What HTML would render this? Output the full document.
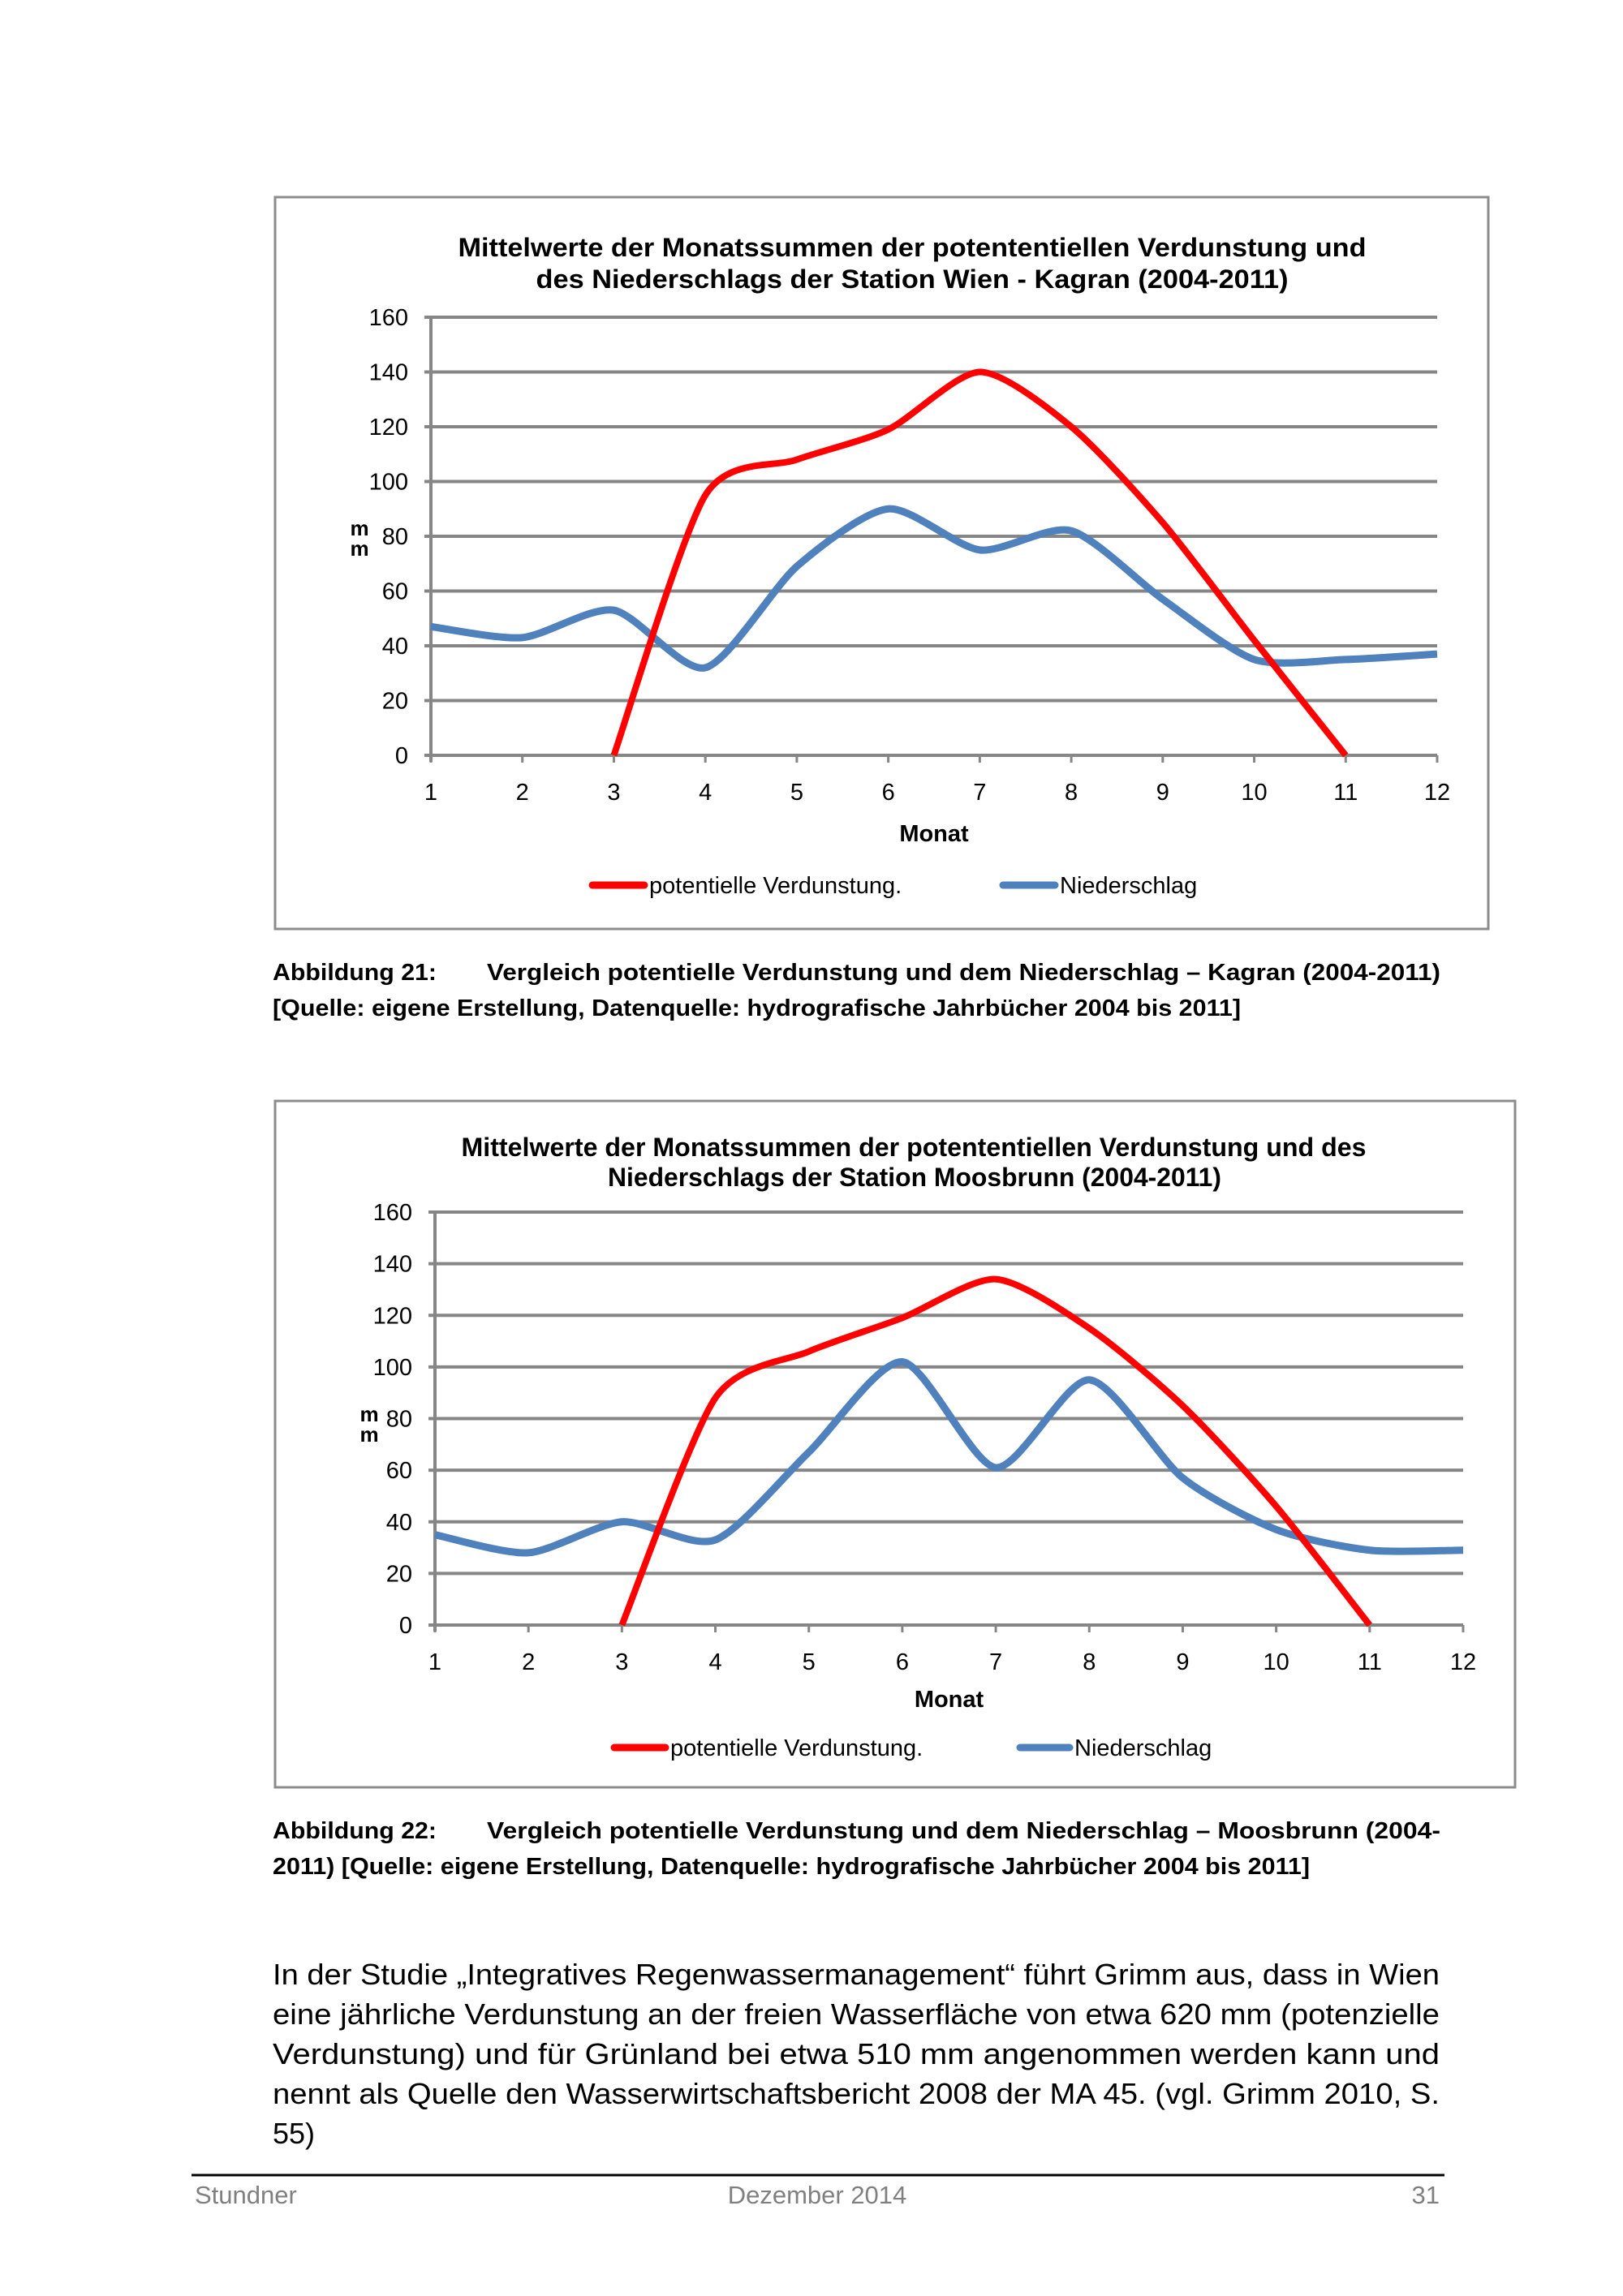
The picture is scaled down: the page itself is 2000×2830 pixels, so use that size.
<!DOCTYPE html>
<html><head><meta charset="utf-8"><style>
html,body{margin:0;padding:0;background:#fff;}
svg{display:block;}
text{font-family:"Liberation Sans",Arial,sans-serif;}
</style></head><body>
<svg id="page" width="2000" height="2830" viewBox="0 0 2000 2830" xmlns="http://www.w3.org/2000/svg">
<g id="c1">
<rect x="339" y="243" width="1495" height="902" fill="#fff" stroke="#8c8c8c" stroke-width="3"/>
<text x="1124" y="316" text-anchor="middle" font-size="32" font-weight="bold" textLength="1119" lengthAdjust="spacingAndGlyphs">Mittelwerte der Monatssummen der potententiellen Verdunstung und</text>
<text x="1124" y="355" text-anchor="middle" font-size="32" font-weight="bold" textLength="927" lengthAdjust="spacingAndGlyphs">des Niederschlags der Station Wien - Kagran (2004-2011)</text>
</g>
<g id="c2">
<rect x="339" y="1357" width="1528" height="846" fill="#fff" stroke="#8c8c8c" stroke-width="3"/>
<text x="1126" y="1425" text-anchor="middle" font-size="32" font-weight="bold" textLength="1115" lengthAdjust="spacingAndGlyphs">Mittelwerte der Monatssummen der potententiellen Verdunstung und des</text>
<text x="1127" y="1462" text-anchor="middle" font-size="32" font-weight="bold" textLength="756" lengthAdjust="spacingAndGlyphs">Niederschlags der Station Moosbrunn (2004-2011)</text>
</g>
<g font-size="29" font-weight="bold">
<text x="336" y="1208" textLength="202" lengthAdjust="spacingAndGlyphs">Abbildung 21:</text>
<text x="600" y="1208" textLength="1175" lengthAdjust="spacingAndGlyphs">Vergleich potentielle Verdunstung und dem Niederschlag – Kagran (2004-2011)</text>
<text x="336" y="1252" textLength="1193" lengthAdjust="spacingAndGlyphs">[Quelle: eigene Erstellung, Datenquelle: hydrografische Jahrbücher 2004 bis 2011]</text>
</g>
<g font-size="29" font-weight="bold">
<text x="336" y="2266" textLength="202" lengthAdjust="spacingAndGlyphs">Abbildung 22:</text>
<text x="600" y="2266" textLength="1175" lengthAdjust="spacingAndGlyphs">Vergleich potentielle Verdunstung und dem Niederschlag – Moosbrunn (2004-</text>
<text x="336" y="2310" textLength="1278" lengthAdjust="spacingAndGlyphs">2011) [Quelle: eigene Erstellung, Datenquelle: hydrografische Jahrbücher 2004 bis 2011]</text>
</g>
<g font-size="36" fill="#000">
<text x="336" y="2446" textLength="1438" lengthAdjust="spacingAndGlyphs">In der Studie „Integratives Regenwassermanagement“ führt Grimm aus, dass in Wien</text>
<text x="336" y="2495" textLength="1438" lengthAdjust="spacingAndGlyphs">eine jährliche Verdunstung an der freien Wasserfläche von etwa 620 mm (potenzielle</text>
<text x="336" y="2544" textLength="1438" lengthAdjust="spacingAndGlyphs">Verdunstung) und für Grünland bei etwa 510 mm angenommen werden kann und</text>
<text x="336" y="2593" textLength="1438" lengthAdjust="spacingAndGlyphs">nennt als Quelle den Wasserwirtschaftsbericht 2008 der MA 45. (vgl. Grimm 2010, S.</text>
<text x="336" y="2642">55)</text>
</g>
<line x1="236" y1="2681" x2="1780" y2="2681" stroke="#000" stroke-width="3"/>
<g font-size="31" fill="#808080">
<text x="240" y="2716">Stundner</text>
<text x="1007" y="2716" text-anchor="middle">Dezember 2014</text>
<text x="1774" y="2716" text-anchor="end">31</text>
</g>
</svg>
<script>
const months = [1,2,3,4,5,6,7,8,9,10,11,12];
const yTicks = [0,20,40,60,80,100,120,140,160];
const kagranVerdunstung = [null,null,0,95,108,119,140,120,85,42,0,null];
const kagranNiederschlag = [47,43,53,32,69,90,75,82,57,35,35,37];
const moosVerdunstung = [null,null,0,88,106,119,134,115,85,46,0,null];
const moosNiederschlag = [35,28,40,33,67,102,61,95,57,37,29,29];

const NS = 'http://www.w3.org/2000/svg';
function mk(parent, tag, attrs){
  const e = document.createElementNS(NS, tag);
  for (const k in attrs) e.setAttribute(k, attrs[k]);
  parent.appendChild(e);
  return e;
}
function smooth(pts){
  const k = 1/8;
  let d = 'M' + pts[0][0] + ',' + pts[0][1];
  for (let i = 0; i < pts.length - 1; i++){
    const p0 = pts[i-1] || pts[i], p1 = pts[i], p2 = pts[i+1], p3 = pts[i+2] || pts[i+1];
    const c1x = p1[0] + (p2[0]-p0[0])*k, c1y = p1[1] + (p2[1]-p0[1])*k;
    const c2x = p2[0] - (p3[0]-p1[0])*k, c2y = p2[1] - (p3[1]-p1[1])*k;
    d += ' C' + c1x + ',' + c1y + ' ' + c2x + ',' + c2y + ' ' + p2[0] + ',' + p2[1];
  }
  return d;
}
function drawChart(g, cfg, red, blue){
  const xs = m => cfg.x0 + (m - 1) * (cfg.x1 - cfg.x0) / 11;
  const ys = v => cfg.y0 - v * (cfg.y0 - cfg.y1) / 160;
  yTicks.forEach(t => {
    const l = mk(g, 'line', {x1: xs(1)-8, x2: cfg.x1, y1: ys(t), y2: ys(t), stroke: '#868686', 'stroke-width': 4});
    
    
    const tx = mk(g, 'text', {x: xs(1)-28, y: ys(t)+10, 'text-anchor': 'end', 'font-size': 29});
    tx.textContent = t;
    
    
  });
  const ya = mk(g, 'line', {x1: xs(1), x2: xs(1), y1: ys(160), y2: ys(0)+8, stroke: '#868686', 'stroke-width': 4});
  
  
  months.forEach(m => {
    const tk = mk(g, 'line', {x1: xs(m), x2: xs(m), y1: ys(0), y2: ys(0)+9, stroke: '#868686', 'stroke-width': 3});
    
    
    const tx = mk(g, 'text', {x: xs(m), y: cfg.y0 + 55, 'text-anchor': 'middle', 'font-size': 29});
    tx.textContent = m;
    
    
  });
  const xt = mk(g, 'text', {x: (cfg.x0+cfg.x1)/2, y: cfg.monatY, 'text-anchor': 'middle', 'font-size': 29, 'font-weight': 'bold'});
  xt.textContent = 'Monat';
  
  
  const m1 = mk(g, 'text', {x: cfg.mmX, y: cfg.mmY, 'text-anchor': 'middle', 'font-size': 26, 'font-weight': 'bold'});
  m1.textContent = 'm';
  
  
  const m2 = mk(g, 'text', {x: cfg.mmX, y: cfg.mmY + 25, 'text-anchor': 'middle', 'font-size': 26, 'font-weight': 'bold'});
  m2.textContent = 'm';
  
  
  const bp = [];
  blue.forEach((v, i) => { if (v !== null) bp.push([xs(months[i]), ys(v)]); });
  const bl = mk(g, 'path', {d: smooth(bp), fill: 'none', stroke: '#4f81bd', 'stroke-width': 9, 'stroke-linejoin': 'round'});
  
  
  const rp = [];
  red.forEach((v, i) => { if (v !== null) rp.push([xs(months[i]), ys(v)]); });
  const rl = mk(g, 'path', {d: smooth(rp), fill: 'none', stroke: '#ff0000', 'stroke-width': 8, 'stroke-linejoin': 'round'});
  
  
  const lr = mk(g, 'line', {x1: cfg.lg[0], x2: cfg.lg[1], y1: cfg.lgY, y2: cfg.lgY, stroke: '#ff0000', 'stroke-width': 9, 'stroke-linecap': 'round'});
  
  
  const lrt = mk(g, 'text', {x: cfg.lg[1]+6, y: cfg.lgY+10, 'font-size': 29});
  lrt.textContent = 'potentielle Verdunstung.';
  
  
  const lb = mk(g, 'line', {x1: cfg.lg[2], x2: cfg.lg[3], y1: cfg.lgY, y2: cfg.lgY, stroke: '#4f81bd', 'stroke-width': 9, 'stroke-linecap': 'round'});
  
  
  const lbt = mk(g, 'text', {x: cfg.lg[3]+6, y: cfg.lgY+10, 'font-size': 29});
  lbt.textContent = 'Niederschlag';
  
  
}
drawChart(document.getElementById('c1'),
  {x0: 531, x1: 1771, y0: 931, y1: 391, monatY: 1037, mmX: 443, mmY: 660, lg: [730, 794, 1236, 1300], lgY: 1091},
  kagranVerdunstung, kagranNiederschlag);
drawChart(document.getElementById('c2'),
  {x0: 536, x1: 1803, y0: 2003, y1: 1494, monatY: 2104, mmX: 455, mmY: 1752, lg: [757, 820, 1257, 1318], lgY: 2154},
  moosVerdunstung, moosNiederschlag);
</script>
</body></html>
